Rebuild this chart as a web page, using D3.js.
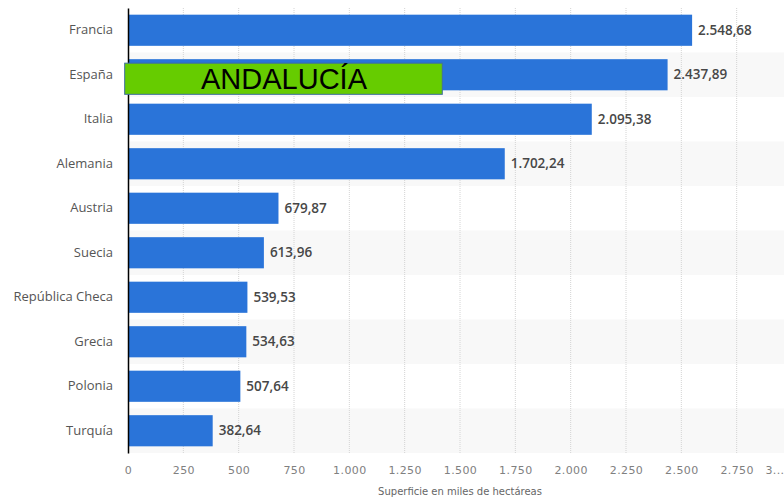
<!DOCTYPE html>
<html>
<head>
<meta charset="utf-8">
<script src="https://cdn.jsdelivr.net/npm/d3@7"></script>
<style>
  body { margin: 0; background: #fff; }
  svg { display: block; font-family: "Open Sans", "DejaVu Sans", sans-serif; }
</style>
</head>
<body>
<div id="chart"></div>
<script>
// datos
const paises = ["Francia", "España", "Italia", "Alemania", "Austria", "Suecia",
                "República Checa", "Grecia", "Polonia", "Turquía"];
const superficie = [2548.68, 2437.89, 2095.38, 1702.24, 679.87, 613.96, 539.53, 534.63, 507.64, 382.64];
const ticksX = [0, 250, 500, 750, 1000, 1250, 1500, 1750, 2000, 2250, 2500, 2750, 3000];
const tituloX = "Superficie en miles de hectáreas";
const etiquetaResaltada = "ANDALUCÍA";

const W = 784, H = 497;
const margin = { top: 8, right: -8, bottom: 44, left: 128 };

const es = d3.formatLocale({ decimal: ",", thousands: ".", grouping: [3], currency: ["", "€"] });
const fmtVal = es.format(",.2f"), fmtTick = es.format(",");

const svg = d3.select("#chart").append("svg")
    .attr("width", W)
    .attr("height", H);

const x = d3.scaleLinear().domain([0, 3000]).range([margin.left, W - margin.right]);
const y = d3.scaleBand().domain(paises).range([margin.top, H - margin.bottom]).paddingInner(0.3).paddingOuter(0.15);
const yRow = d3.scaleBand().domain(paises).range([margin.top, H - margin.bottom]);

// bandas alternas
svg.selectAll("rect.row")
    .data(paises.filter((d, i) => i % 2 === 1))
    .enter().append("rect")
    .attr("class", "row")
    .attr("x", margin.left)
    .attr("y", d => yRow(d))
    .attr("width", W - margin.left)
    .attr("height", yRow.bandwidth())
    .attr("fill", "#f8f8f8");

// rejilla
svg.selectAll("line.grid")
    .data(ticksX.slice(1))
    .enter().append("line")
    .attr("class", "grid")
    .attr("x1", d => x(d)).attr("x2", d => x(d))
    .attr("y1", margin.top).attr("y2", H - margin.bottom)
    .attr("stroke", "#d4d4d4")
    .attr("stroke-dasharray", "1,1");

// barras
svg.selectAll("rect.bar")
    .data(paises)
    .enter().append("rect")
    .attr("class", "bar")
    .attr("x", x(0))
    .attr("y", d => y(d))
    .attr("width", (d, i) => x(superficie[i]) - x(0))
    .attr("height", y.bandwidth())
    .attr("fill", "#2a74d9");

// valores
svg.selectAll("text.val")
    .data(paises)
    .enter().append("text")
    .attr("class", "val")
    .attr("x", (d, i) => x(superficie[i]) + 6)
    .attr("y", d => y(d) + y.bandwidth() / 2)
    .attr("dy", "0.35em")
    .attr("font-size", 13.5)
    .attr("font-weight", 600)
    .attr("fill", "#474747")
    .text((d, i) => fmtVal(superficie[i]));

// eje Y
const yAxis = svg.append("g")
    .attr("transform", `translate(${margin.left},0)`)
    .call(d3.axisLeft(yRow).tickSize(0).tickPadding(15));
yAxis.select(".domain").attr("stroke", "#000").attr("stroke-width", 1.5);
yAxis.selectAll("text").attr("font-size", 13).attr("fill", "#555")
    .attr("font-family", "'Open Sans', sans-serif");

// eje X
const xAxis = svg.append("g")
    .attr("transform", `translate(0,${H - margin.bottom})`)
    .call(d3.axisBottom(x).tickValues(ticksX).tickSize(0).tickPadding(13)
        .tickFormat(d => d === 3000 ? "3..." : fmtTick(d)));
xAxis.select(".domain").remove();
xAxis.selectAll("text").attr("font-size", 11).attr("fill", "#808080")
    .attr("font-family", "'DejaVu Sans', sans-serif").attr("letter-spacing", "0.4px");
xAxis.selectAll(".tick").filter(d => d === 3000).select("text")
    .attr("text-anchor", "end").attr("x", W - x(3000));

svg.append("text")
    .attr("x", x(1500))
    .attr("y", H - 2)
    .attr("text-anchor", "middle")
    .attr("font-size", 10)
    .attr("fill", "#666")
    .attr("font-family", "'DejaVu Sans', sans-serif")
    .text(tituloX);

// recuadro Andalucía sobre España
const yEs = y("España");
const box = svg.append("g");
box.append("rect")
    .attr("x", x(-15))
    .attr("y", yEs + 4)
    .attr("width", x(1420) - x(-15))
    .attr("height", y.bandwidth())
    .attr("fill", "#66cc00")
    .attr("stroke", "#3f6f9f")
    .attr("stroke-width", 1);
box.append("text")
    .attr("x", x(705))
    .attr("y", yEs + 4 + y.bandwidth() / 2)
    .attr("dy", "0.36em")
    .attr("text-anchor", "middle")
    .attr("font-family", "'Liberation Sans', Arial, sans-serif")
    .attr("font-size", 29)
    .attr("fill", "#000")
    .text(etiquetaResaltada);
</script>
</body>
</html>
